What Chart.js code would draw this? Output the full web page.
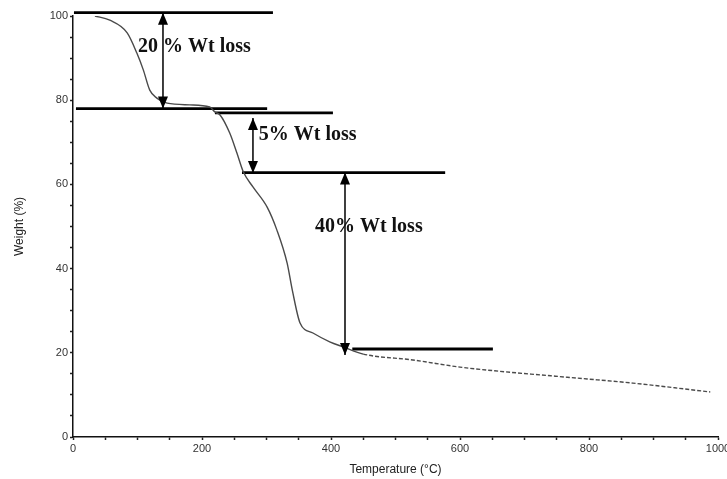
<!DOCTYPE html>
<html>
<head>
<meta charset="utf-8">
<script src="https://cdn.jsdelivr.net/npm/chart.js@4.4.1/dist/chart.umd.min.js"></script>
<style>
  html, body { margin: 0; padding: 0; background: #fff; }
  #wrap { width: 727px; height: 479px; }
</style>
</head>
<body>
<div id="wrap"><canvas id="tgaChart" width="727" height="479"></canvas></div>
<script>
// TGA curve
const temperature = [34, 57, 84, 99, 109, 119, 130, 146, 181, 212, 220, 228, 243, 254, 264, 279, 301, 316, 332, 340, 352, 372, 398, 419, 450, 527, 600, 662, 766, 868, 988];
const weight = [100, 99.0, 96.0, 91.2, 87.2, 82.4, 80.5, 79.3, 78.9, 78.4, 77.2, 76.5, 72.2, 67.5, 63.0, 59.4, 54.6, 49.2, 41.3, 34.9, 27.1, 24.7, 22.6, 21.4, 19.7, 18.3, 16.6, 15.6, 14.2, 12.8, 10.7];

// horizontal step lines
const levelStart = [1.5, 4.6, 220, 262, 433];
const levelEnd = [310, 301, 403, 577, 651];
const levelWeight = [100.8, 78.0, 77.0, 62.8, 20.9];

// double headed arrows
const arrowTemp = [139.5, 279, 421.7];
const arrowTop = [100.8, 75.8, 62.8];
const arrowBottom = [78.0, 62.7, 19.5];

// loss labels (left edge, middle)
const lossLabels = ['20 % Wt loss', '5% Wt loss', '40% Wt loss'];
const labelTemp = [100.8, 288, 375];
const labelWeight = [92.6, 71.7, 49.9];

const xTicksMajor = 200;
const yTicksMajor = 20;

document.addEventListener('DOMContentLoaded', () => {
    const ctx = document.getElementById('tgaChart').getContext('2d');

    const datasets = [];

    datasets.push({
        data: temperature.map((t, i) => ({ x: t, y: weight[i] })),
        borderColor: '#4a4a4a',
        borderWidth: 1.4,
        pointRadius: 0,
        cubicInterpolationMode: 'monotone',
        segment: {
            borderDash: c => c.p0.parsed.x >= 430 ? [4, 2] : undefined
        }
    });

    levelWeight.forEach((w, i) => {
        datasets.push({
            data: [{ x: levelStart[i], y: w }, { x: levelEnd[i], y: w }],
            borderColor: '#000',
            borderWidth: 2.8,
            pointRadius: 0,
            clip: false
        });
    });

    arrowTemp.forEach((t, i) => {
        datasets.push({
            data: [{ x: t, y: arrowTop[i] }, { x: t, y: arrowBottom[i] }],
            borderColor: '#000',
            borderWidth: 1.5,
            pointRadius: 0,
            clip: false,
            arrowHeads: true
        });
    });

    const arrowPlugin = {
        id: 'arrowHeads',
        afterDatasetsDraw(chart) {
            const c = chart.ctx;
            chart.data.datasets.forEach((ds, i) => {
                if (!ds.arrowHeads) return;
                const pts = chart.getDatasetMeta(i).data;
                const drawHead = (tip, from) => {
                    const dir = tip.y < from.y ? 1 : -1;
                    c.beginPath();
                    c.moveTo(tip.x, tip.y);
                    c.lineTo(tip.x - 5, tip.y + dir * 12);
                    c.lineTo(tip.x + 5, tip.y + dir * 12);
                    c.closePath();
                    c.fillStyle = '#000';
                    c.fill();
                };
                c.save();
                drawHead(pts[0], pts[1]);
                drawHead(pts[1], pts[0]);
                c.restore();
            });
        }
    };

    const labelPlugin = {
        id: 'lossLabels',
        afterDatasetsDraw(chart) {
            const c = chart.ctx;
            const xs = chart.scales.x;
            const ys = chart.scales.y;
            c.save();
            c.font = 'bold 20px "Liberation Serif", "Times New Roman", serif';
            c.fillStyle = '#111';
            c.textAlign = 'left';
            c.textBaseline = 'middle';
            lossLabels.forEach((txt, i) => {
                c.fillText(txt, xs.getPixelForValue(labelTemp[i]), ys.getPixelForValue(labelWeight[i]));
            });
            c.restore();
        }
    };

    const tickFont = { family: '"Liberation Sans", Arial, sans-serif', size: 11 };
    const titleFont = { family: '"Liberation Sans", Arial, sans-serif', size: 12 };

    new Chart(ctx, {
        type: 'line',
        data: { datasets: datasets },
        options: {
            responsive: false,
            animation: false,
            layout: { padding: { top: 16, right: 9, left: 0, bottom: 0 } },
            plugins: {
                legend: { display: false },
                tooltip: { enabled: false }
            },
            scales: {
                x: {
                    type: 'linear',
                    min: 0,
                    max: 1000,
                    border: { color: '#111', width: 1.5 },
                    grid: { drawOnChartArea: false, tickLength: 3, color: '#222', tickWidth: 1.5 },
                    ticks: {
                        stepSize: 50,
                        autoSkip: false,
                        maxRotation: 0,
                        padding: 2,
                        color: '#333',
                        font: tickFont,
                        callback: v => v % xTicksMajor === 0 ? v : ''
                    },
                    title: {
                        display: true,
                        text: 'Temperature (°C)',
                        color: '#222',
                        font: titleFont,
                        padding: { top: 0, bottom: 2 }
                    },
                    afterFit: scale => {
                        scale.height = 42;
                        scale.paddingLeft = 0;
                        scale.paddingRight = 0;
                    }
                },
                y: {
                    min: 0,
                    max: 100,
                    border: { color: '#111', width: 1.5 },
                    grid: { drawOnChartArea: false, tickLength: 3, color: '#222', tickWidth: 1.5 },
                    ticks: {
                        stepSize: 5,
                        autoSkip: false,
                        padding: 2,
                        color: '#333',
                        font: tickFont,
                        callback: v => v % yTicksMajor === 0 ? v : ''
                    },
                    title: {
                        display: true,
                        text: 'Weight (%)',
                        color: '#222',
                        font: titleFont,
                        padding: { top: 12, bottom: 0 }
                    },
                    afterFit: scale => {
                        scale.width = 73;
                        scale.paddingTop = 0;
                        scale.paddingBottom = 0;
                    }
                }
            }
        },
        plugins: [arrowPlugin, labelPlugin]
    });
});
</script>
</body>
</html>
